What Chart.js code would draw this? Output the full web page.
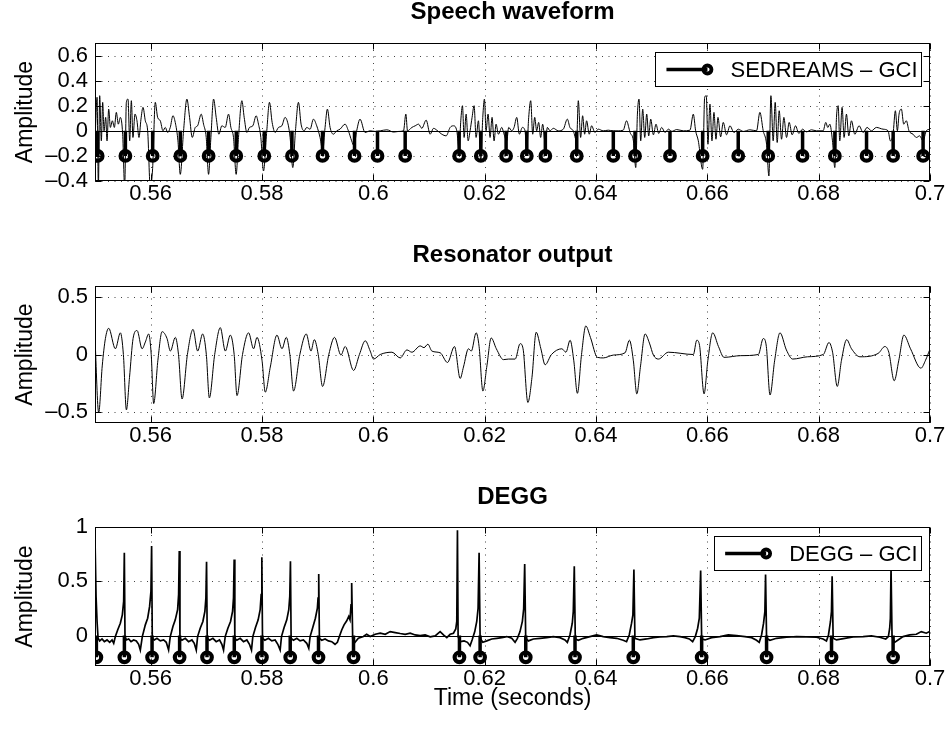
<!DOCTYPE html>
<html>
<head>
<meta charset="utf-8">
<script src="https://cdn.jsdelivr.net/npm/chart.js@4.4.1/dist/chart.umd.min.js"></script>
<style>
  html, body { margin: 0; padding: 0; background: #fff; }
  #wrap { position: relative; width: 949px; height: 730px; overflow: hidden; background: #fff; }
  #wrap canvas { position: absolute; left: 0; }
</style>
</head>
<body>
<div id="wrap">
  <canvas id="speechPanel" width="949" height="243" style="top:0px;width:949px;height:243px"></canvas>
  <canvas id="resonatorPanel" width="949" height="242" style="top:243px;width:949px;height:242px"></canvas>
  <canvas id="deggPanel" width="949" height="245" style="top:485px;width:949px;height:245px"></canvas>
</div>
<script>
// ---- axis ticks ----
const xTickValues = [0.56, 0.58, 0.60, 0.62, 0.64, 0.66, 0.68, 0.70];
const speechTickValues = [-0.4, -0.2, 0, 0.2, 0.4, 0.6];
const resonatorTickValues = [-0.5, 0, 0.5];
const deggTickValues = [0, 0.5, 1];

// ---- glottal closure instants (s) ----
const sedreamsGci = [0.55048, 0.55546, 0.56036, 0.56533, 0.57041, 0.57538, 0.58041, 0.58538,
  0.59087, 0.59662, 0.60075, 0.60572, 0.61541, 0.61931, 0.62385, 0.62757, 0.63090, 0.63654,
  0.64311, 0.64701, 0.65329, 0.65916, 0.66555, 0.67094, 0.67711, 0.68291, 0.68860, 0.69338, 0.69876];
const deggGci = [0.55025, 0.55528, 0.56025, 0.56520, 0.57012, 0.57502, 0.57999, 0.58507,
  0.59015, 0.59644, 0.61547, 0.61918, 0.62738, 0.63623, 0.64670, 0.65898, 0.67064, 0.68231, 0.69337];
const gciLevel = -0.2;

// ---- speech waveform [time s, amplitude] ----
const speechSamples = [
  [0.55007,0],[0.55037,0.267],[0.55061,-0.45],[0.55084,0.28],[0.55114,-0.08],[0.55138,0.227],
  [0.55162,0],[0.55192,0.107],[0.55216,-0.08],[0.55246,0.173],[0.55276,0.027],[0.55312,0.08],
  [0.55348,0.027],[0.55383,0.147],[0.55419,0.053],[0.55455,0.107],[0.55497,-0.027],[0.55533,-0.45],
  [0.55563,0.227],[0.55593,0.253],[0.55623,-0.08],[0.55653,0.24],[0.55682,-0.053],[0.55718,0.133],
  [0.55754,0.08],[0.55790,-0.053],[0.55826,0.093],[0.55862,0.187],[0.55904,0.08],[0.55946,0],
  [0.55993,-0.45],[0.56035,-0.3],[0.56083,0.227],[0.56125,0.107],[0.56173,0.08],[0.56221,0],
  [0.56263,0.027],[0.56305,-0.013],[0.56352,0.027],[0.56400,0.12],[0.56448,0.053],[0.56490,-0.08],
  [0.56532,-0.347],[0.56591,0],[0.56651,0.253],[0.56699,0.107],[0.56747,-0.053],[0.56801,0.027],
  [0.56843,0.04],[0.56908,0.133],[0.56950,0.053],[0.56998,-0.053],[0.57040,-0.347],[0.57082,-0.053],
  [0.57130,0.253],[0.57177,0.107],[0.57225,-0.027],[0.57279,0.04],[0.57339,0.027],[0.57399,0.133],
  [0.57441,0.027],[0.57488,-0.053],[0.57536,-0.347],[0.57578,-0.053],[0.57638,0.24],[0.57680,0.107],
  [0.57728,-0.013],[0.57775,0.027],[0.57835,0.04],[0.57895,0.12],[0.57937,0.053],[0.57979,-0.053],
  [0.58027,-0.32],[0.58086,0],[0.58134,0.227],[0.58182,0.067],[0.58236,-0.013],[0.58296,0.027],
  [0.58356,0.04],[0.58415,0.107],[0.58475,0.04],[0.58505,-0.053],[0.58553,-0.293],[0.58601,0],
  [0.58655,0.227],[0.58702,0.053],[0.58756,0],[0.58804,0.027],[0.58864,0.013],[0.58924,0.093],
  [0.58983,0.04],[0.59043,-0.053],[0.59091,-0.16],[0.59133,0.027],[0.59175,0.173],[0.59223,0.027],
  [0.59282,-0.027],[0.59342,0],[0.59402,0.013],[0.59492,0.053],[0.59552,0],[0.59611,-0.08],
  [0.59653,-0.12],[0.59701,0],[0.59761,0.093],[0.59851,-0.013],
  [0.59944,0],[0.60034,-0.005],[0.60124,0],[0.60243,0.008],[0.60363,-0.01],[0.60453,-0.005],
  [0.60542,0],[0.60584,0.133],[0.60614,0],[0.60692,0.027],[0.60752,0.04],[0.60812,0.053],
  [0.60871,0.02],[0.60949,0.085],[0.61021,-0.027],[0.61081,0.02],[0.61140,0.005],[0.61230,-0.027],
  [0.61308,-0.04],[0.61380,0.027],[0.61439,0.04],[0.61499,0],[0.61541,-0.147],[0.61571,0.08],
  [0.61601,0.2],[0.61631,-0.053],[0.61667,0.133],[0.61703,-0.08],[0.61738,0],[0.61774,0.107],
  [0.61810,0.2],[0.61846,-0.053],[0.61888,0.08],[0.61930,-0.24],[0.61966,0.107],[0.61996,0.253],
  [0.62025,0],[0.62061,0.133],[0.62097,-0.053],[0.62133,0.107],[0.62169,-0.08],[0.62205,0.053],
  [0.62247,-0.027],[0.62307,0.027],[0.62348,-0.027],[0.62396,-0.08],[0.62432,0.027],[0.62486,0],
  [0.62528,0.027],[0.62576,0.107],[0.62623,-0.027],[0.62677,0.027],[0.62725,0],[0.62755,-0.16],
  [0.62791,0.107],[0.62827,0.24],[0.62863,-0.027],[0.62899,0.107],[0.62934,0],[0.62970,0.067],
  [0.63006,-0.053],[0.63042,0.053],[0.63090,-0.107],[0.63126,0.027],[0.63174,0],[0.63233,0.02],
  [0.63323,0],[0.63413,0.013],[0.63485,0.093],[0.63532,0.027],[0.63592,0],[0.63652,-0.08],
  [0.63682,0.24],[0.63724,-0.053],[0.63760,0.12],[0.63796,-0.027],[0.63831,0.08],[0.63879,-0.027],
  [0.63921,0.04],[0.63981,-0.013],[0.64041,0.013],[0.64130,0],[0.64220,0.005],[0.64310,0],
  [0.64399,0],[0.64489,0.005],[0.64549,0.08],[0.64597,0.013],
  [0.64612,-0.013],[0.64672,-0.08],[0.64714,-0.293],[0.64744,0.133],[0.64773,0.253],[0.64803,-0.08],
  [0.64839,0.173],[0.64875,-0.053],[0.64911,0.133],[0.64947,-0.04],[0.64983,0.093],[0.65031,-0.032],
  [0.65078,0.053],[0.65126,-0.021],[0.65180,0.027],[0.65240,-0.013],[0.65300,0.013],[0.65360,-0.005],
  [0.65449,0.01],[0.65569,0],[0.65688,0.005],[0.65748,0.133],[0.65790,0],[0.65838,-0.08],
  [0.65916,-0.307],[0.65952,0.267],[0.65981,0.28],[0.66011,-0.107],[0.66047,0.213],[0.66083,-0.08],
  [0.66119,0.147],[0.66155,-0.067],[0.66191,0.107],[0.66239,-0.048],[0.66286,0.067],[0.66346,-0.032],
  [0.66406,0.04],[0.66478,-0.013],[0.66556,0.013],[0.66645,-0.005],[0.66765,0.008],[0.66884,0],
  [0.66944,0.147],[0.67004,0],[0.67064,-0.107],[0.67106,-0.36],[0.67142,0.28],[0.67183,-0.08],
  [0.67219,0.227],[0.67255,-0.093],[0.67291,0.16],[0.67333,-0.067],[0.67375,0.107],[0.67423,-0.053],
  [0.67470,0.067],[0.67524,-0.032],[0.67584,0.04],[0.67644,-0.021],[0.67710,0.013],[0.67781,-0.008],
  [0.67871,0.008],[0.67961,0],[0.68080,0],[0.68128,0.067],[0.68164,0.027],[0.68200,0.053],
  [0.68248,-0.08],[0.68290,-0.293],[0.68320,0.107],[0.68350,0.2],[0.68379,-0.08],[0.68421,0.187],
  [0.68457,-0.053],[0.68499,0.133],[0.68541,-0.04],[0.68589,0.08],[0.68649,-0.027],[0.68726,0.04],
  [0.68798,-0.013],[0.68870,0.027],[0.68948,0],[0.69037,0.027],[0.69157,0.013],[0.69247,0],
  [0.69288,-0.08],[0.69336,-0.027],[0.69378,0.16],[0.69414,0],[0.69444,0.133],[0.69486,0.173],
  [0.69528,0.053],[0.69575,0.08],[0.69623,0],[0.69695,-0.027],[0.69755,-0.053],[0.69815,-0.04],
  [0.69874,-0.08],[0.69934,0],[0.69994,0.013]
];

// ---- resonator output [time s, amplitude] ----
const resonatorSamples = [
  [0.55000,0.14],[0.55066,-0.51],[0.55130,-0.10],[0.55187,0.14],[0.55246,0.23],[0.55366,0.05],
  [0.55456,0.19],[0.55510,0],[0.55564,-0.485],[0.55620,-0.20],[0.55684,0.14],[0.55756,0.21],
  [0.55846,0.05],[0.55905,0.11],[0.55964,0.18],[0.56010,0],[0.56054,-0.43],[0.56130,-0.05],
  [0.56205,0.20],[0.56294,0.14],[0.56354,0.03],[0.56443,0.15],[0.56500,0],[0.56564,-0.39],
  [0.56660,0],[0.56761,0.22],[0.56844,0.03],[0.56934,0.18],[0.57000,0],[0.57054,-0.38],
  [0.57150,0],[0.57251,0.235],[0.57341,0.03],[0.57431,0.17],[0.57500,0],[0.57551,-0.36],
  [0.57650,0],[0.57759,0.19],[0.57849,0.05],[0.57910,0.15],[0.58000,-0.05],[0.58059,-0.33],
  [0.58149,-0.11],[0.58269,0.17],[0.58359,0.05],[0.58436,0.15],[0.58500,0],[0.58567,-0.32],
  [0.58680,0],[0.58795,0.18],[0.58880,0.03],[0.58939,0.13],[0.59010,0],[0.59088,-0.28],
  [0.59200,0],[0.59303,0.15],[0.59418,-0.005],[0.59495,0.07],[0.59645,-0.14],[0.59750,0],
  [0.59855,0.12],[0.59944,0.03],[0.60004,-0.04],[0.60124,0],[0.60334,0.02],[0.60483,-0.03],
  [0.60603,0.04],[0.60693,0.02],[0.60842,0.075],[0.60910,0.06],[0.60980,0.09],[0.61052,0.03],
  [0.61201,0.015],[0.61332,-0.07],[0.61458,0.07],[0.61560,-0.21],[0.61619,-0.11],[0.61709,0.05],
  [0.61760,0.03],[0.61847,0.19],[0.61900,0.07],[0.61968,-0.32],[0.62040,-0.10],[0.62117,0.145],
  [0.62210,0.05],[0.62338,-0.045],[0.62430,-0.04],[0.62548,-0.04],[0.62637,0.095],[0.62690,0.05],
  [0.62776,-0.42],[0.62850,-0.20],[0.62925,0.195],[0.63010,0.05],[0.63086,-0.09],[0.63200,0],
  [0.63386,0.05],[0.63460,0.02],[0.63535,0.125],[0.63600,-0.05],[0.63666,-0.34],[0.63740,0],
  [0.63817,0.25],[0.63900,0.15],[0.64025,-0.025],[0.64130,-0.03],[0.64312,-0.005],[0.64522,0.015],
  [0.64600,0.125],[0.64670,-0.05],[0.64733,-0.345],[0.64800,-0.10],[0.64882,0.18],[0.64960,0.10],
  [0.65031,-0.005],[0.65120,-0.04],[0.65300,0.02],[0.65749,0],[0.65810,0.125],[0.65860,0.08],
  [0.65941,-0.345],[0.66010,-0.05],[0.66097,0.19],[0.66200,0.07],[0.66300,-0.025],[0.66600,-0.01],
  [0.66916,0],[0.67005,0.14],[0.67060,0.07],[0.67126,-0.355],[0.67210,-0.05],[0.67305,0.19],
  [0.67420,0.04],[0.67533,-0.04],[0.67800,-0.02],[0.68083,0],[0.68185,0.105],[0.68250,0.02],
  [0.68334,-0.28],[0.68410,-0.05],[0.68503,0.13],[0.68590,0.05],[0.68741,-0.02],[0.69070,0.01],
  [0.69190,0.07],[0.69260,0.02],[0.69357,-0.23],[0.69440,-0.05],[0.69531,0.17],[0.69650,0.05],
  [0.69837,-0.12],[0.69920,-0.05],[0.69998,0.045]
];

// ---- differentiated EGG [time s, amplitude] ----
const deggSamples = [
  [0.55001,0.864],[0.55019,0.361],[0.55037,0.13],[0.55055,-0.025],[0.55084,-0.049],[0.55126,-0.031],
  [0.55168,-0.056],[0.55216,-0.04],[0.55264,-0.062],[0.55306,-0.04],[0.55336,-0.071],[0.55366,-0.009],
  [0.55407,0.052],[0.55455,0.114],[0.55491,0.191],[0.55515,0.315],[0.55527,0.762],[0.55539,-0.009],
  [0.55563,-0.04],[0.55605,-0.031],[0.55647,-0.056],[0.55694,-0.04],[0.55742,-0.049],[0.55784,-0.08],
  [0.55814,-0.133],[0.55850,-0.009],[0.55904,0.099],[0.55946,0.16],[0.55981,0.269],[0.56005,0.407],
  [0.56017,0.824],[0.56029,-0.025],[0.56065,-0.04],[0.56113,-0.025],[0.56173,-0.049],[0.56233,-0.04],
  [0.56280,-0.062],[0.56322,-0.133],[0.56352,-0.009],[0.56400,0.083],[0.56442,0.145],[0.56484,0.238],
  [0.56502,0.377],[0.56514,0.778],[0.56526,-0.025],[0.56562,-0.043],[0.56621,-0.025],[0.56681,-0.056],
  [0.56741,-0.04],[0.56783,-0.071],[0.56819,-0.133],[0.56843,-0.009],[0.56890,0.068],[0.56938,0.13],
  [0.56974,0.222],[0.56992,0.346],[0.57004,0.679],[0.57016,-0.025],[0.57058,-0.043],[0.57118,-0.025],
  [0.57177,-0.056],[0.57237,-0.04],[0.57279,-0.08],[0.57309,-0.133],[0.57339,-0.009],[0.57387,0.068],
  [0.57435,0.13],[0.57471,0.222],[0.57488,0.346],[0.57500,0.70],[0.57512,-0.025],[0.57548,-0.043],
  [0.57608,-0.025],[0.57668,-0.056],[0.57728,-0.04],[0.57775,-0.08],[0.57811,-0.133],[0.57835,-0.009],
  [0.57883,0.074],[0.57931,0.145],[0.57967,0.238],[0.57985,0.377],[0.57997,0.722],[0.58009,-0.025],
  [0.58051,-0.043],[0.58116,-0.025],[0.58176,-0.049],[0.58236,-0.04],[0.58284,-0.08],[0.58326,-0.133],
  [0.58350,-0.009],[0.58397,0.074],[0.58445,0.145],[0.58481,0.238],[0.58499,0.361],[0.58511,0.685],
  [0.58523,-0.025],[0.58565,-0.043],[0.58625,-0.025],[0.58684,-0.049],[0.58744,-0.04],[0.58804,-0.071],
  [0.58840,-0.117],[0.58864,-0.009],[0.58912,0.074],[0.58959,0.16],[0.58995,0.253],[0.59007,0.346],
  [0.59019,0.568],[0.59031,-0.025],[0.59073,-0.043],[0.59133,-0.031],[0.59193,-0.049],[0.59253,-0.056],
  [0.59312,-0.08],[0.59354,-0.062],[0.59390,-0.009],[0.59432,0.052],[0.59474,0.099],[0.59522,0.136],
  [0.59558,0.176],[0.59581,0.145],[0.59599,0.284],[0.59611,0.485],[0.59629,-0.025],[0.59671,-0.062],
  [0.59731,-0.025],[0.59821,-0.009],[0.59880,0.012],
  [0.59944,-0.009],[0.60034,0.012],[0.60124,0.022],[0.60214,0.012],[0.60303,0.037],[0.60393,0.028],
  [0.60483,0.019],[0.60572,0.012],[0.60662,0.022],[0.60752,0.006],[0.60841,0],[0.60931,0.006],
  [0.61021,-0.012],[0.61110,-0.003],[0.61200,0.037],[0.61260,0.006],[0.61320,-0.019],[0.61380,0.012],
  [0.61439,0.022],[0.61481,0.062],[0.61499,0.13],[0.61511,0.969],[0.61523,-0.009],[0.61559,-0.056],
  [0.61631,-0.049],[0.61691,-0.062],[0.61738,-0.093],[0.61774,-0.04],[0.61822,0.037],[0.61858,0.13],
  [0.61882,0.253],[0.61900,0.762],[0.61918,-0.025],[0.61966,-0.062],[0.62037,-0.049],[0.62127,-0.031],
  [0.62217,-0.025],[0.62307,-0.019],[0.62396,-0.009],[0.62486,-0.025],[0.62546,-0.062],[0.62588,-0.025],
  [0.62635,0.037],[0.62677,0.13],[0.62701,0.247],[0.62719,0.66],[0.62737,-0.025],[0.62785,-0.049],
  [0.62875,-0.031],[0.62994,-0.025],[0.63114,-0.019],[0.63233,-0.009],[0.63353,-0.019],[0.63443,-0.04],
  [0.63485,-0.062],[0.63532,0.006],[0.63574,0.114],[0.63592,0.222],[0.63610,0.639],[0.63628,-0.031],
  [0.63682,-0.043],[0.63772,-0.025],[0.63891,-0.009],[0.64011,0.006],[0.64130,-0.009],[0.64250,-0.019],
  [0.64370,-0.025],[0.64489,-0.043],[0.64549,-0.056],[0.64597,0.006],[0.64639,0.114],[0.64663,0.191],
  [0.64681,0.608],[0.64699,-0.025],
  [0.64791,-0.04],[0.64911,-0.031],[0.65031,-0.019],[0.65150,-0.012],[0.65270,-0.009],[0.65389,-0.003],
  [0.65509,-0.009],[0.65599,-0.019],[0.65676,-0.031],[0.65736,-0.056],[0.65784,-0.009],[0.65826,0.068],
  [0.65856,0.16],[0.65880,0.599],[0.65898,-0.031],[0.65958,-0.04],[0.66077,-0.019],[0.66227,-0.009],
  [0.66376,0.006],[0.66526,0],[0.66675,-0.009],[0.66795,-0.019],[0.66884,-0.043],[0.66932,-0.062],
  [0.66974,0.006],[0.67010,0.114],[0.67034,0.222],[0.67046,0.562],[0.67064,-0.025],[0.67124,-0.043],
  [0.67243,-0.025],[0.67423,-0.015],[0.67602,-0.009],[0.67781,-0.012],[0.67961,-0.015],[0.68080,-0.031],
  [0.68140,-0.049],[0.68176,0.006],[0.68212,0.13],[0.68230,0.222],[0.68242,0.546],[0.68260,-0.025],
  [0.68320,-0.04],[0.68469,-0.025],[0.68619,-0.012],[0.68798,-0.009],[0.68948,-0.003],[0.69097,-0.015],
  [0.69205,-0.031],[0.69252,-0.009],[0.69276,0.068],[0.69288,0.16],[0.69300,0.62],[0.69318,-0.009],
  [0.69366,-0.062],[0.69426,-0.04],[0.69516,-0.009],[0.69635,0.006],[0.69755,0.012],[0.69844,0.037],
  [0.69934,0.022],[0.69994,0.037]
];

const FONT = '"Liberation Sans", Arial, Helvetica, sans-serif';
Chart.defaults.font.family = FONT;
Chart.defaults.color = '#000';

function fmt(v) {
  const s = String(Math.round(v * 100) / 100);
  return s.replace('-', '\u2013');
}

function toPoints(samples) {
  return samples.map(([t, v]) => ({ x: t, y: v }));
}

function stemPoints(times, level) {
  const pts = [];
  times.forEach(t => { pts.push({ x: t, y: 0 }, { x: t, y: level }, { x: t, y: null }); });
  return pts;
}

// Dotted grid, inward tick marks, box frame, stem baseline, panel title and legend.
const panelFrame = {
  id: 'panelFrame',
  beforeDraw(chart) {
    const { ctx, width, height } = chart;
    ctx.save();
    ctx.fillStyle = '#fff';
    ctx.fillRect(0, 0, width, height);
    ctx.restore();
  },
  beforeDatasetsDraw(chart) {
    const { ctx, chartArea: a, scales: { x, y } } = chart;
    ctx.save();
    ctx.strokeStyle = '#444';
    ctx.lineWidth = 1;
    ctx.setLineDash([1, 5.5]);
    x.ticks.forEach(t => {
      const px = Math.round(x.getPixelForValue(t.value)) + 0.5;
      ctx.beginPath(); ctx.moveTo(px, a.bottom); ctx.lineTo(px, a.top); ctx.stroke();
    });
    y.ticks.forEach(t => {
      const py = Math.round(y.getPixelForValue(t.value)) + 0.5;
      ctx.beginPath(); ctx.moveTo(a.left, py); ctx.lineTo(a.right, py); ctx.stroke();
    });
    ctx.restore();
  },
  afterDatasetsDraw(chart, args, opts) {
    const { ctx, chartArea: a, scales: { x, y } } = chart;
    const L = Math.round(a.left) + 0.5, R = Math.round(a.right) - 0.5;
    const T = Math.round(a.top) + 0.5, B = Math.round(a.bottom) - 0.5;
    ctx.save();
    ctx.strokeStyle = '#000';
    ctx.lineWidth = 1;
    if (opts.baseline) {
      const py = Math.round(y.getPixelForValue(0)) + 0.5;
      ctx.beginPath(); ctx.moveTo(L, py); ctx.lineTo(R, py); ctx.stroke();
    }
    const tl = 6;
    x.ticks.forEach(t => {
      const px = Math.round(x.getPixelForValue(t.value)) + 0.5;
      ctx.beginPath();
      ctx.moveTo(px, T); ctx.lineTo(px, T + tl);
      ctx.moveTo(px, B); ctx.lineTo(px, B - tl);
      ctx.stroke();
    });
    y.ticks.forEach(t => {
      const py = Math.round(y.getPixelForValue(t.value)) + 0.5;
      ctx.beginPath();
      ctx.moveTo(L, py); ctx.lineTo(L + tl, py);
      ctx.moveTo(R, py); ctx.lineTo(R - tl, py);
      ctx.stroke();
    });
    ctx.strokeRect(L, T, R - L, B - T);

    // panel title, centred over the plotting box
    ctx.fillStyle = '#000';
    ctx.font = 'bold 24px ' + FONT;
    ctx.textAlign = 'center';
    ctx.textBaseline = 'middle';
    ctx.fillText(opts.title, (a.left + a.right) / 2, opts.titleY);

    if (opts.legend) {
      ctx.font = '22px ' + FONT;
      const tw = ctx.measureText(opts.legend).width;
      const right = Math.round(a.right - 9) + 0.5;
      const top = Math.round(a.top + 9) + 0.5;
      const h = 34;
      const textEnd = right - 4;
      const textStart = textEnd - tw;
      const cx = textStart - 23;
      const lineStart = cx - 41;
      const left = Math.round(lineStart - 11.5) + 0.5;
      ctx.fillStyle = '#fff';
      ctx.fillRect(left, top, right - left, h);
      ctx.strokeRect(left, top, right - left, h);
      const cy = top + h / 2;
      ctx.lineWidth = 3.3;
      ctx.beginPath(); ctx.moveTo(lineStart, cy); ctx.lineTo(cx, cy); ctx.stroke();
      ctx.lineWidth = 3.8;
      ctx.beginPath(); ctx.arc(cx, cy, 4, 0, Math.PI * 2); ctx.stroke();
      ctx.fillStyle = '#000';
      ctx.textAlign = 'left';
      ctx.textBaseline = 'middle';
      ctx.fillText(opts.legend, textStart, cy + 1);
    }
    ctx.restore();
  }
};

function makePanel(id, cfg) {
  const datasets = [];
  if (cfg.gci) {
    const isMarker = c => !!(c.raw && c.raw.y === gciLevel);
    datasets.push({
      data: stemPoints(cfg.gci, gciLevel),
      borderColor: '#000',
      borderWidth: 3.5,
      pointRadius: c => isMarker(c) ? 4.8 : 0,
      pointHoverRadius: c => isMarker(c) ? 4.8 : 0,
      pointBorderWidth: 4.2,
      pointBorderColor: '#000',
      pointBackgroundColor: 'rgba(0,0,0,0)',
      spanGaps: false,
      tension: 0,
      order: 0
    });
  }
  datasets.push({
    data: toPoints(cfg.samples),
    borderColor: '#000',
    borderWidth: cfg.lineWidth,
    pointRadius: 0,
    tension: cfg.smooth ? 0.4 : 0,
    cubicInterpolationMode: cfg.smooth ? 'monotone' : 'default',
    order: 1
  });

  return new Chart(document.getElementById(id), {
    type: 'line',
    data: { datasets },
    plugins: [panelFrame],
    options: {
      responsive: false,
      animation: false,
      events: [],
      layout: { padding: { left: 0, right: 19, top: cfg.plotTop, bottom: 0 } },
      plugins: {
        legend: { display: false },
        tooltip: { enabled: false },
        title: { display: false },
        panelFrame: { baseline: !!cfg.gci, legend: cfg.legend || null, title: cfg.title, titleY: 12 }
      },
      scales: {
        x: {
          type: 'linear',
          min: 0.55,
          max: 0.7,
          afterBuildTicks: s => { s.ticks = xTickValues.map(v => ({ value: v })); },
          afterFit: s => { s.height = cfg.xAxisHeight; },
          grid: { display: false, drawTicks: false },
          border: { display: false },
          ticks: {
            autoSkip: false, maxRotation: 0, padding: 0,
            color: '#000', font: { size: 22 },
            callback: v => fmt(v)
          },
          title: cfg.xTitle ? {
            display: true, text: cfg.xTitle, color: '#000',
            font: { size: 23 }, padding: { top: 0, bottom: 18 }
          } : { display: false }
        },
        y: {
          type: 'linear',
          min: cfg.yMin,
          max: cfg.yMax,
          afterBuildTicks: s => { s.ticks = cfg.yTicks.map(v => ({ value: v })); },
          afterFit: s => { s.width = 95; },
          grid: { display: false, drawTicks: false },
          border: { display: false },
          ticks: {
            autoSkip: false, padding: 7,
            color: '#000', font: { size: 22 },
            callback: v => fmt(v)
          },
          title: {
            display: true, text: 'Amplitude', color: '#000',
            font: { size: 23 }, padding: { top: 12, bottom: 0 }
          }
        }
      }
    }
  });
}

makePanel('speechPanel', {
  title: 'Speech waveform', plotTop: 43, samples: speechSamples, lineWidth: 1, smooth: true,
  gci: sedreamsGci, legend: 'SEDREAMS \u2013 GCI',
  yMin: -0.4, yMax: 0.7, yTicks: speechTickValues, xAxisHeight: 62
});
makePanel('resonatorPanel', {
  title: 'Resonator output', plotTop: 43, samples: resonatorSamples, lineWidth: 1, smooth: true,
  yMin: -0.6, yMax: 0.6, yTicks: resonatorTickValues, xAxisHeight: 62
});
makePanel('deggPanel', {
  title: 'DEGG', plotTop: 42, samples: deggSamples, lineWidth: 1.7, smooth: false,
  gci: deggGci, legend: 'DEGG \u2013 GCI',
  yMin: -0.28, yMax: 1, yTicks: deggTickValues, xAxisHeight: 64, xTitle: 'Time (seconds)'
});
</script>
</body>
</html>
